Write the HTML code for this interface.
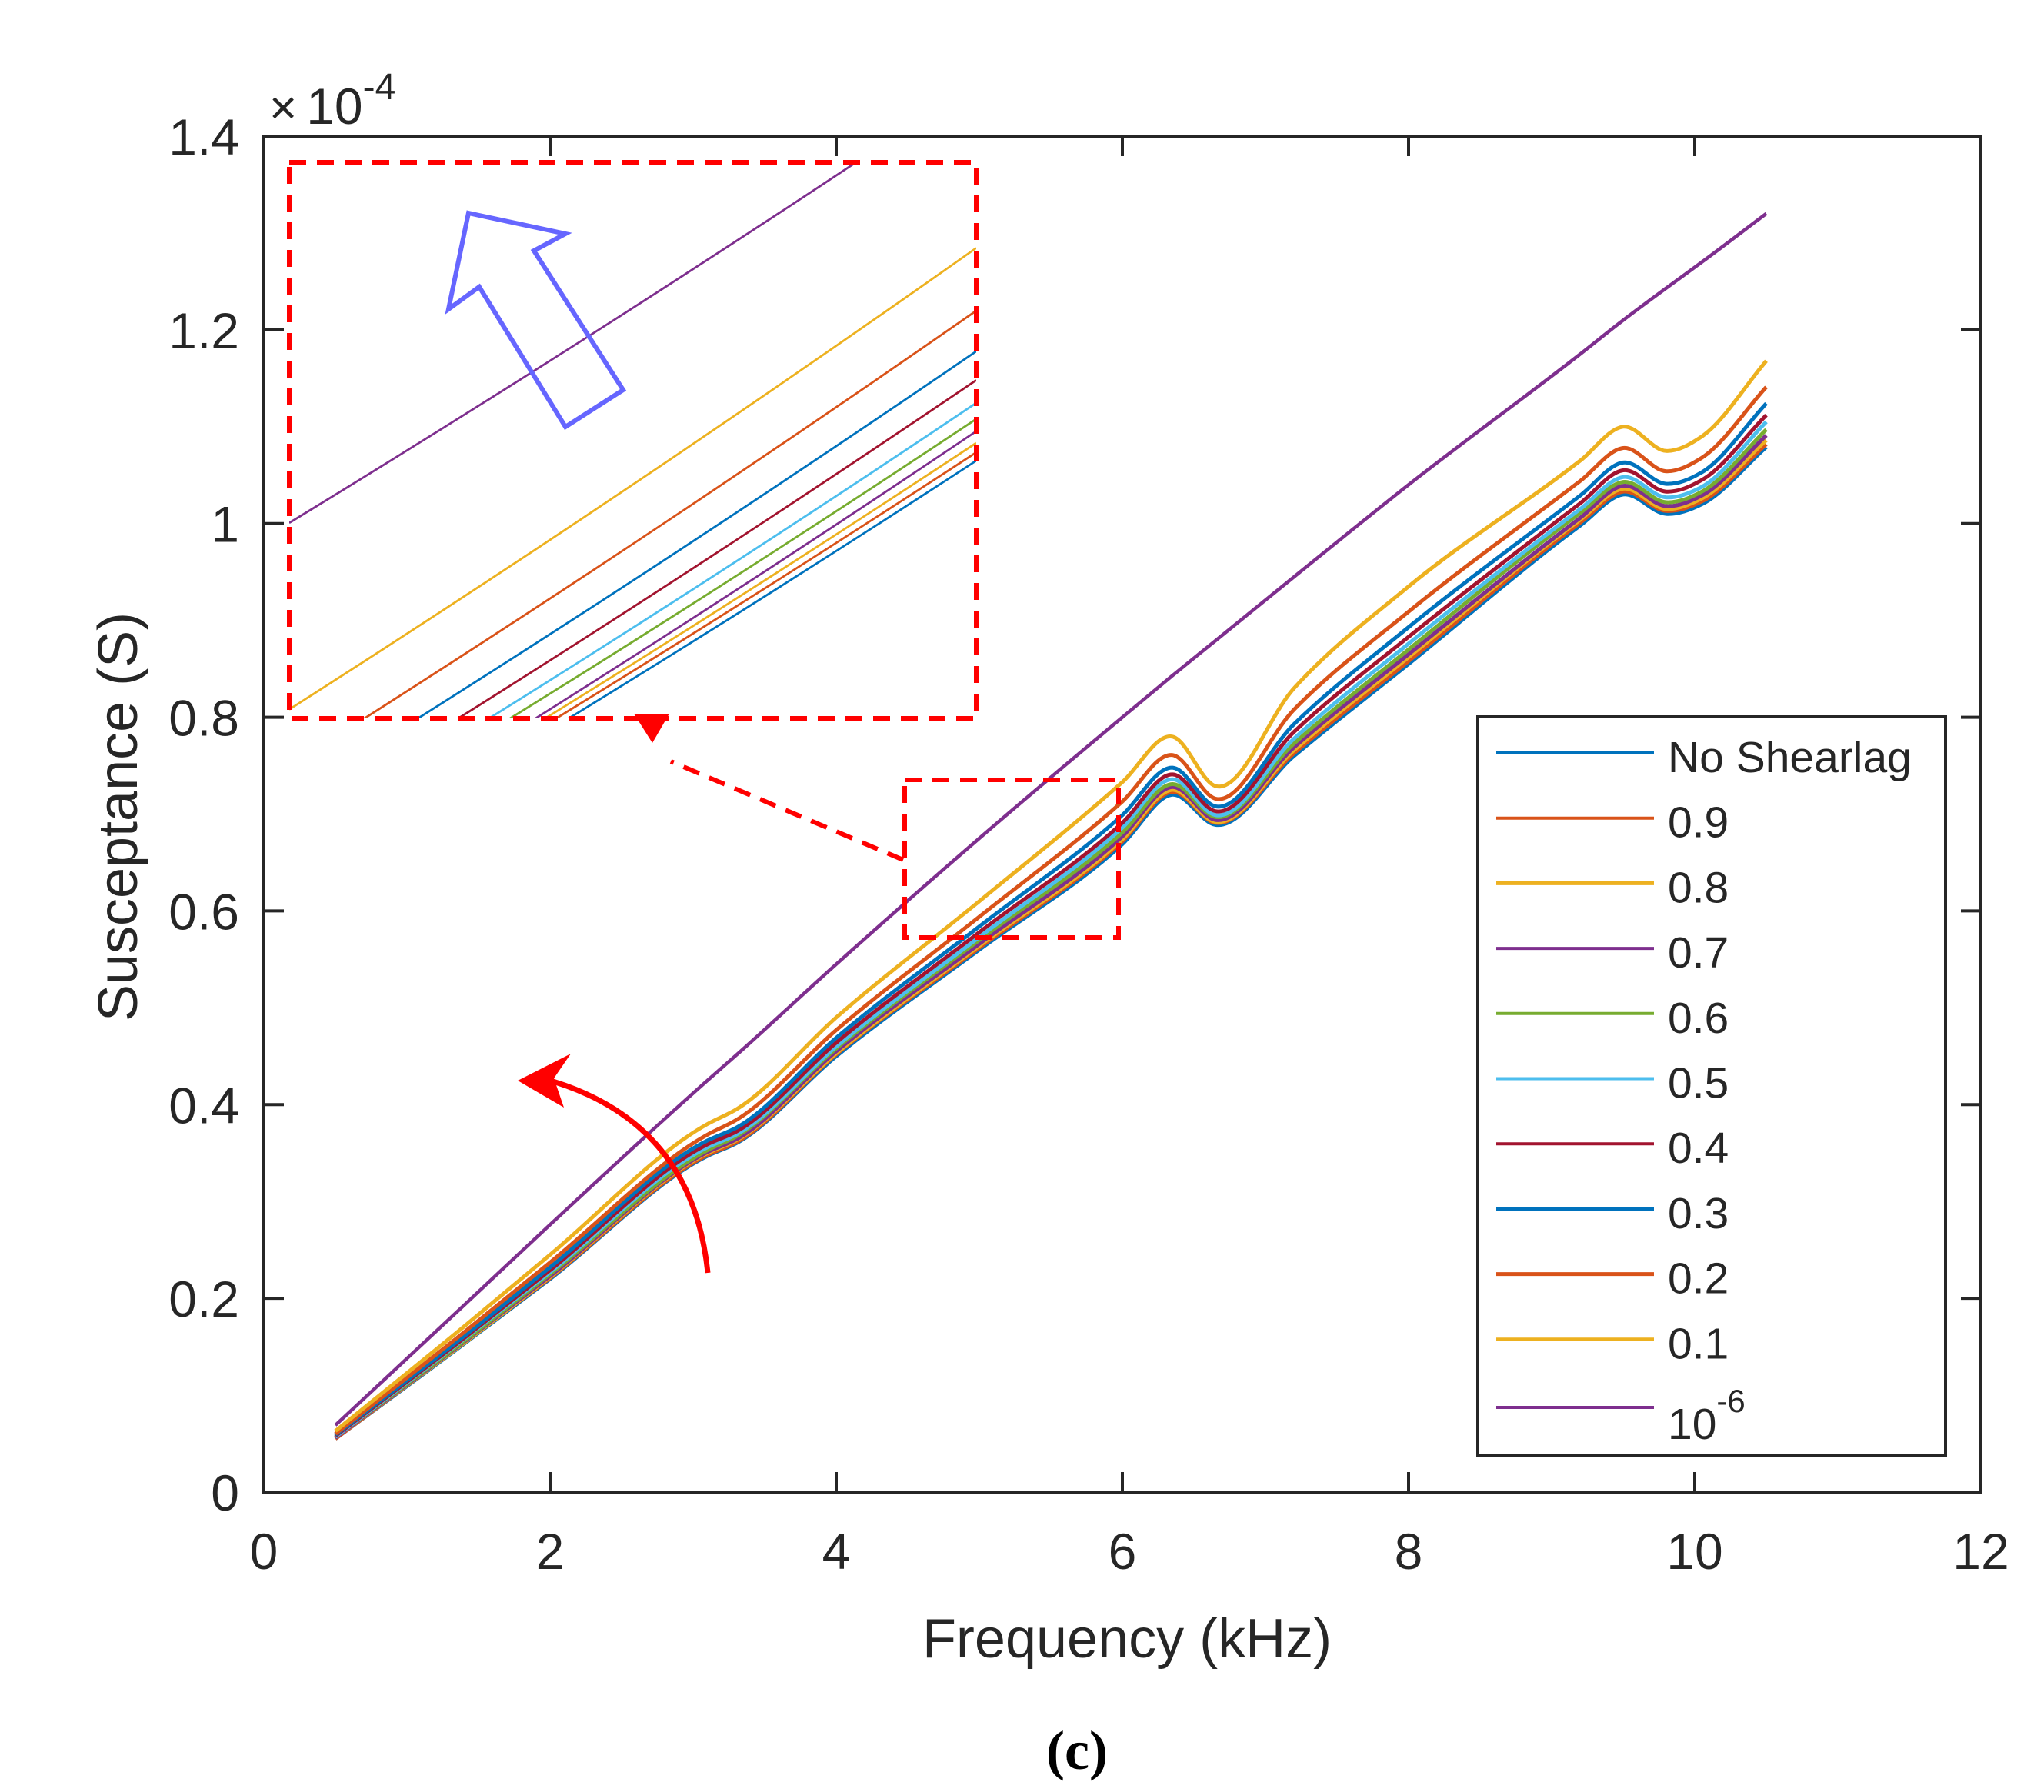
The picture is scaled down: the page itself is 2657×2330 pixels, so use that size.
<!DOCTYPE html>
<html><head><meta charset="utf-8"><title>Susceptance vs Frequency</title>
<style>
html,body{margin:0;padding:0;background:#fff;}
svg{display:block;}
text{font-family:"Liberation Sans",Arial,sans-serif;fill:#262626;}
</style></head>
<body>
<svg id="chart" width="2657" height="2330" viewBox="0 0 2657 2330" xmlns="http://www.w3.org/2000/svg">
<rect width="2657" height="2330" fill="#fff"/>
<defs>
<clipPath id="plotClip"><rect x="343" y="177" width="2232" height="1763"/></clipPath>
<clipPath id="insetClip"><rect x="376" y="212" width="893" height="722"/></clipPath>
</defs>
<g id="series" clip-path="url(#plotClip)"></g>
<g id="inset" clip-path="url(#insetClip)"></g>
<g id="axes"></g>

<rect x="376" y="211" width="893" height="723" fill="none" stroke="#ff0000" stroke-width="6" stroke-dasharray="22,14"/>
<rect x="1176" y="1014" width="278" height="205" fill="none" stroke="#ff0000" stroke-width="6" stroke-dasharray="22,14"/>
<line x1="1174" y1="1118" x2="872" y2="990" stroke="#ff0000" stroke-width="6" stroke-dasharray="22,14"/>
<polygon points="824,928 870,928 848,966" fill="#ff0000"/>
<polygon points="609,277 735,304 694,326 810,507 735,555 623,373 583,402" fill="none" stroke="#6666ff" stroke-width="6" stroke-linejoin="miter"/>
<path d="M920,1655 Q900,1455 705,1402" fill="none" stroke="#ff0000" stroke-width="7"/>
<polygon points="673,1405 742,1370 720,1402 733,1440" fill="#ff0000"/>

<text x="1465" y="2155" font-size="72" text-anchor="middle">Frequency (kHz)</text>
<text transform="translate(178,1062) rotate(-90)" font-size="72" text-anchor="middle">Susceptance (S)</text>
<text x="350" y="161" font-size="62">×<tspan dx="12" font-size="66">10</tspan><tspan dy="-32" font-size="48">-4</tspan></text>
<text x="1400" y="2300" font-size="72" font-weight="bold" text-anchor="middle" style="font-family:'Liberation Serif',serif;fill:#000">(c)</text>

<g id="legend">
<rect x="1921" y="932" width="608" height="961" fill="#fff" stroke="#262626" stroke-width="4"/>
</g>
</svg>
<script>
const xGrid = [0.5,1.4,2,3.1,3.3,4,5,6,6.35,6.65,7.2,8,9.2,9.5,9.8,10.05,10.5];
const seriesNames = ["No Shearlag","0.9","0.8","0.7","0.6","0.5","0.4","0.3","0.2","0.1","10^-6"];
const seriesColors = ["#0072BD","#D95319","#EDB120","#7E2F8E","#77AC30","#4DBEEE","#A2142F","#0072BD","#D95319","#EDB120","#7E2F8E"];
const sNoShear = [.055,.153,.220,.347,.360,.450,.560,.669,.720,.689,.760,.855,.998,1.030,1.010,1.020,1.079];
const s09 = [.055,.154,.221,.348,.361,.452,.562,.672,.723,.691,.763,.858,1.001,1.033,1.013,1.023,1.082];
const s08 = [.056,.154,.222,.350,.363,.453,.564,.674,.725,.692,.766,.862,1.004,1.036,1.015,1.026,1.086];
const s07 = [.056,.155,.223,.351,.364,.455,.566,.677,.728,.694,.769,.865,1.006,1.039,1.018,1.029,1.091];
const s06 = [.057,.156,.225,.353,.367,.458,.570,.681,.731,.697,.773,.870,1.011,1.043,1.022,1.033,1.097];
const s05 = [.057,.158,.227,.356,.369,.460,.573,.686,.736,.699,.778,.876,1.015,1.048,1.027,1.038,1.105];
const s04 = [.058,.159,.229,.359,.372,.464,.578,.691,.741,.703,.785,.883,1.021,1.055,1.033,1.045,1.112];
const s03 = [.059,.161,.232,.363,.376,.469,.584,.699,.748,.708,.793,.893,1.029,1.063,1.041,1.053,1.124];
const s02 = [.060,.165,.237,.369,.384,.477,.594,.713,.761,.716,.808,.909,1.044,1.078,1.054,1.068,1.141];
const s01 = [.063,.171,.245,.380,.395,.490,.610,.733,.780,.729,.830,.935,1.065,1.100,1.075,1.090,1.168];
const s1e6 = [.069,.193,.276,.425,.451,.545,.675,.800,.843,.879,.945,1.040,1.175,1.210,1.243,1.270,1.320];
const xTicks = [0,2,4,6,8,10,12];
const yTicks = [0,0.2,0.4,0.6,0.8,1,1.2,1.4];
const yTickLabels = ["0","0.2","0.4","0.6","0.8","1","1.2","1.4"];
const insetStart = [-0.302,-0.289,-0.279,-0.274,-0.242,-0.221,-0.189,-0.145,-0.086,0.016,0.352];
const insetMid = [0.071,0.085,0.098,0.111,0.138,0.163,0.200,0.248,0.314,0.421,0.739];
const insetEnd = [0.464,0.479,0.496,0.517,0.539,0.568,0.609,0.661,0.734,0.847,1.146];

const NS = "http://www.w3.org/2000/svg";
const X0=343, X1=2575, Y0=1940, Y1=177;
function xs(v){return X0+(v/12)*(X1-X0);}
function ys(v){return Y0-(v/1.4)*(Y0-Y1);}
function ixs(u){return 376+u*893;}
function iys(v){return 934-v*722;}
function mk(tag,attrs,parent){const e=document.createElementNS(NS,tag);for(const k in attrs)e.setAttribute(k,attrs[k]);parent.appendChild(e);return e;}
function hermitePath(xv,yv){
  const n=xv.length, m=[];
  for(let i=0;i<n;i++){
    if(i===0) m.push((yv[1]-yv[0])/(xv[1]-xv[0]));
    else if(i===n-1) m.push((yv[n-1]-yv[n-2])/(xv[n-1]-xv[n-2]));
    else {
      const s0=(yv[i]-yv[i-1])/(xv[i]-xv[i-1]), s1=(yv[i+1]-yv[i])/(xv[i+1]-xv[i]);
      const h0=xv[i]-xv[i-1], h1=xv[i+1]-xv[i];
      m.push((s0*h1+s1*h0)/(h0+h1));
    }
  }
  let d="M"+xs(xv[0]).toFixed(1)+","+ys(yv[0]).toFixed(1);
  for(let i=0;i<n-1;i++){
    const h=xv[i+1]-xv[i];
    const ax=xv[i]+h/3, ay=yv[i]+m[i]*h/3;
    const bx=xv[i+1]-h/3, by=yv[i+1]-m[i+1]*h/3;
    d+=" C"+xs(ax).toFixed(1)+","+ys(ay).toFixed(1)+" "+xs(bx).toFixed(1)+","+ys(by).toFixed(1)+" "+xs(xv[i+1]).toFixed(1)+","+ys(yv[i+1]).toFixed(1);
  }
  return d;
}
const allSeries=[sNoShear,s09,s08,s07,s06,s05,s04,s03,s02,s01,s1e6];
const sg=document.getElementById("series");
allSeries.forEach((arr,i)=>{
  const p=mk("path",{d:hermitePath(xGrid,arr),fill:"none",stroke:seriesColors[i],"stroke-width":(i===10?4.5:5),"stroke-linejoin":"round"},sg);
  
  
});
const ig=document.getElementById("inset");
insetStart.forEach((v,i)=>{
  const pts=[[ixs(0),iys(v)],[ixs(0.5),iys(insetMid[i])],[ixs(1),iys(insetEnd[i])]];
  const d="M"+pts[0][0]+","+pts[0][1]+" Q"+(2*pts[1][0]-(pts[0][0]+pts[2][0])/2)+","+(2*pts[1][1]-(pts[0][1]+pts[2][1])/2)+" "+pts[2][0]+","+pts[2][1];
  const p=mk("path",{d:d,fill:"none",stroke:seriesColors[i],"stroke-width":2.8},ig);
  
  
});
const ag=document.getElementById("axes");
const frame=mk("rect",{x:X0,y:Y1,width:X1-X0,height:Y0-Y1,fill:"none",stroke:"#262626","stroke-width":4},ag);


xTicks.forEach(t=>{
  const x=xs(t);
  const tk=mk("path",{d:"M"+x+","+Y0+"V"+(Y0-26)+"M"+x+","+Y1+"V"+(Y1+26),stroke:"#262626","stroke-width":4},ag);
  
  
  const lb=mk("text",{x:x,y:2040,"font-size":66,"text-anchor":"middle"},ag);
  lb.textContent=String(t);
  
  
});
yTicks.forEach((t,i)=>{
  const y=ys(t);
  const tk=mk("path",{d:"M"+X0+","+y+"H"+(X0+26)+"M"+X1+","+y+"H"+(X1-26),stroke:"#262626","stroke-width":4},ag);
  
  
  const lb=mk("text",{x:311,y:y+24,"font-size":66,"text-anchor":"end"},ag);
  lb.textContent=yTickLabels[i];
  
  
});
const lg=document.getElementById("legend");
seriesNames.forEach((n,i)=>{
  const y=979+i*84.7+(i===10?4:0);
  const ln=mk("line",{x1:1945,x2:2150,y1:y,y2:y,stroke:seriesColors[i],"stroke-width":(i===7||i===8||i===2?5:4)},lg);
  
  
  const tx=mk("text",{x:2168,y:(i===10?1871:y+25),"font-size":57},lg);
  if(i===10){
    tx.appendChild(document.createTextNode("10"));
    const sp=mk("tspan",{dy:-35,"font-size":42},tx);
    sp.textContent="-6";
  } else {
    tx.textContent=n;
  }
  
  
});
</script>
</body></html>
